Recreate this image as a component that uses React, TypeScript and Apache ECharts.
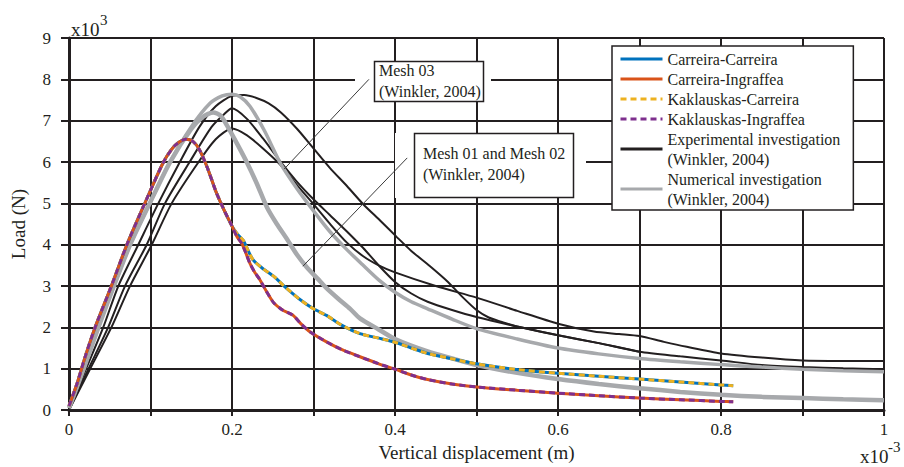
import React, { useEffect, useRef } from "react";
import * as echarts from "echarts";

type P = [number, number];

const FONT = "Liberation Serif";
const INK = "#231f20";
const GRAY = "#a7a9ac";

const yTicks = [0, 1, 2, 3, 4, 5, 6, 7, 8, 9];
const xLabelEvery = 0.2;

// shared rising branch of the four numerical (this study) curves
const colouredRise: P[] = [
  [0, 0.1], [0.01, 0.65], [0.02, 1.3], [0.032, 2.0], [0.052, 3.0], [0.071, 4.0],
  [0.093, 5.0], [0.116, 6.0], [0.13, 6.4], [0.143, 6.55], [0.152, 6.5], [0.16, 6.3],
  [0.17, 5.85], [0.18, 5.3], [0.19, 4.85], [0.2, 4.45],
];
const carreiraTail: P[] = [
  [0.207, 4.25], [0.214, 4.1], [0.22, 3.85], [0.226, 3.63], [0.238, 3.42], [0.251, 3.24],
  [0.265, 2.98], [0.283, 2.68], [0.3, 2.45], [0.316, 2.29], [0.335, 2.05], [0.357, 1.85],
  [0.38, 1.74], [0.4, 1.64], [0.42, 1.5], [0.44, 1.37], [0.47, 1.24], [0.5, 1.12],
  [0.546, 0.99], [0.6, 0.89], [0.65, 0.82], [0.7, 0.75], [0.75, 0.68], [0.8, 0.61], [0.815, 0.59],
];
const ingraffeaTail: P[] = [
  [0.206, 4.2], [0.212, 4.03], [0.217, 3.8], [0.222, 3.55], [0.228, 3.33], [0.234, 3.16],
  [0.242, 2.88], [0.251, 2.6], [0.262, 2.42], [0.275, 2.29], [0.285, 2.08], [0.296, 1.89],
  [0.316, 1.65], [0.335, 1.46], [0.357, 1.29], [0.38, 1.12], [0.4, 0.99], [0.42, 0.85],
  [0.44, 0.74], [0.47, 0.63], [0.5, 0.56], [0.55, 0.48], [0.6, 0.41], [0.65, 0.35],
  [0.7, 0.29], [0.75, 0.25], [0.8, 0.21], [0.815, 0.2],
];

// Winkler (2004) numerical investigation
const mesh03: P[] = [
  [0, 0.05], [0.018, 1.0], [0.036, 2.0], [0.055, 3.0], [0.075, 4.0], [0.099, 5.0], [0.124, 6.0],
  [0.15, 6.85], [0.173, 7.42], [0.188, 7.6], [0.2, 7.64], [0.21, 7.58], [0.222, 7.35],
  [0.24, 6.75], [0.26, 5.95], [0.28, 5.35], [0.3, 4.82], [0.32, 4.32], [0.34, 3.9],
  [0.36, 3.52], [0.38, 3.15], [0.4, 2.85], [0.42, 2.62], [0.44, 2.45], [0.47, 2.2],
  [0.5, 1.97], [0.55, 1.72], [0.6, 1.5], [0.65, 1.36], [0.7, 1.25], [0.75, 1.17],
  [0.8, 1.1], [0.85, 1.04], [0.9, 0.99], [0.95, 0.95], [1.0, 0.93],
];
const mesh0102: P[] = [
  [0, 0.05], [0.018, 1.0], [0.036, 2.0], [0.055, 3.0], [0.075, 4.0], [0.099, 5.0], [0.124, 6.0],
  [0.15, 6.8], [0.165, 7.1], [0.177, 7.2], [0.186, 7.12], [0.194, 6.88], [0.206, 6.45],
  [0.218, 6.0], [0.23, 5.5], [0.243, 4.9], [0.255, 4.5], [0.267, 4.15], [0.28, 3.75],
  [0.292, 3.45], [0.305, 3.18], [0.316, 2.95], [0.33, 2.7], [0.345, 2.45], [0.357, 2.22],
  [0.38, 1.95], [0.4, 1.72], [0.44, 1.42], [0.47, 1.25], [0.5, 1.09], [0.55, 0.9],
  [0.6, 0.75], [0.65, 0.63], [0.7, 0.53], [0.75, 0.44], [0.8, 0.37], [0.85, 0.32],
  [0.9, 0.29], [0.95, 0.26], [1.0, 0.24],
];

// Winkler (2004) experimental investigation
const expA: P[] = [
  [0, 0], [0.021, 1.0], [0.042, 2.0], [0.0605, 3.0], [0.085, 4.0], [0.1096, 5.0], [0.136, 6.0],
  [0.16, 6.85], [0.18, 7.35], [0.2, 7.6], [0.215, 7.62], [0.23, 7.55], [0.245, 7.42],
  [0.26, 7.2], [0.28, 6.8], [0.3, 6.33], [0.32, 5.86], [0.341, 5.42], [0.361, 4.98],
  [0.382, 4.58], [0.402, 4.19], [0.42, 3.85], [0.443, 3.48], [0.465, 3.1], [0.482, 2.75],
  [0.5, 2.42], [0.515, 2.24], [0.53, 2.14], [0.55, 2.02], [0.6, 1.81], [0.65, 1.62], [0.7, 1.41],
];
const expB: P[] = [
  [0, 0], [0.024, 1.0], [0.048, 2.0], [0.0687, 3.0], [0.0953, 4.0], [0.1178, 5.0], [0.148, 6.0],
  [0.175, 6.85], [0.19, 7.15], [0.2, 7.3], [0.218, 7.05], [0.238, 6.57], [0.259, 6.02],
  [0.279, 5.54], [0.3, 5.1], [0.32, 4.72], [0.341, 4.32], [0.361, 3.92], [0.38, 3.5],
  [0.4, 3.1], [0.42, 2.82], [0.44, 2.62], [0.47, 2.42], [0.5, 2.25], [0.55, 2.02],
  [0.6, 1.81], [0.65, 1.62], [0.7, 1.41], [0.75, 1.3], [0.8, 1.2], [0.85, 1.09],
  [0.9, 1.04], [0.95, 1.01], [1.0, 0.99],
];
const expC: P[] = [
  [0, 0], [0.026, 1.0], [0.052, 2.0], [0.0748, 3.0], [0.1015, 4.0], [0.126, 5.0], [0.159, 6.0],
  [0.18, 6.55], [0.2, 6.81], [0.218, 6.65], [0.238, 6.33], [0.259, 5.94], [0.279, 5.46],
  [0.3, 4.98], [0.32, 4.51], [0.341, 4.05], [0.361, 3.72], [0.38, 3.5], [0.4, 3.33],
  [0.45, 3.0], [0.5, 2.72], [0.55, 2.4], [0.6, 2.09], [0.644, 1.9], [0.675, 1.84],
  [0.7, 1.79], [0.73, 1.65], [0.758, 1.53], [0.8, 1.37], [0.85, 1.27], [0.9, 1.2],
  [0.95, 1.19], [1.0, 1.19],
];

// annotation leader lines (data coordinates: start, end)
const leaderMesh03: [P, P] = [[0.368, 8.0], [0.264, 5.83]];
const leaderMesh0102: [P, P] = [[0.415, 6.1], [0.287, 3.48]];

const NAMES = {
  cc: "Carreira-Carreira",
  ci: "Carreira-Ingraffea",
  kc: "Kaklauskas-Carreira",
  ki: "Kaklauskas-Ingraffea",
  exp: "Experimental investigation\n(Winkler, 2004)",
  num: "Numerical investigation\n(Winkler, 2004)",
};

function lineSeries(name: string, data: P[], color: string, width: number, dashed = false, z = 2): any {
  return {
    type: "line",
    name,
    data,
    symbol: "none",
    showSymbol: false,
    smooth: 0.25,
    silent: true,
    z,
    lineStyle: { color, width, type: dashed ? [6, 4] : "solid", cap: "butt" },
    itemStyle: { color, opacity: 0 },
    emphasis: { disabled: true },
  };
}

function txt(text: string, x: number, y: number, fontSize: number, lineHeight?: number): any {
  return {
    type: "text",
    z: 5,
    silent: true,
    x,
    y,
    style: { text, fontFamily: FONT, fontSize, lineHeight, fill: INK },
  };
}

export default function App() {
  const ref = useRef<HTMLDivElement>(null);

  useEffect(() => {
    if (!ref.current) return;
    const chart = echarts.init(ref.current, null, { renderer: "svg" });

    const mesh03Series = lineSeries(NAMES.num, mesh03, GRAY, 3.5);
    mesh03Series.markLine = {
      silent: true,
      symbol: ["none", "none"],
      z: 6,
      label: { show: false },
      emphasis: { disabled: true },
      lineStyle: { color: "#3a3a3a", width: 1, type: "solid", opacity: 1 },
      data: [leaderMesh03, leaderMesh0102].map((l) => [{ coord: l[0] }, { coord: l[1] }]),
    };

    const option: any = {
      animation: false,
      backgroundColor: "#ffffff",
      textStyle: { fontFamily: FONT, color: INK },
      grid: { left: 69, right: 20, top: 38, bottom: 51, containLabel: false },
      xAxis: {
        type: "value",
        min: 0,
        max: 1,
        interval: 0.1,
        name: "Vertical displacement (m)",
        nameLocation: "middle",
        nameGap: 32,
        nameTextStyle: { fontFamily: FONT, fontSize: 19, color: INK },
        axisLine: { show: true, onZero: false, lineStyle: { color: INK, width: 3 } },
        axisTick: { show: true, inside: false, length: 6, lineStyle: { color: INK, width: 2 } },
        axisLabel: {
          fontFamily: FONT,
          fontSize: 17,
          color: INK,
          margin: 11,
          formatter: (v: number) => {
            const k = Math.round(v * 10);
            if (k % Math.round(xLabelEvery * 10) !== 0) return "";
            if (k === 0) return "0";
            if (k === 10) return "1";
            return (k / 10).toFixed(1);
          },
        },
        splitLine: { show: true, lineStyle: { color: INK, width: 2 } },
      },
      yAxis: {
        type: "value",
        min: yTicks[0],
        max: yTicks[yTicks.length - 1],
        interval: 1,
        name: "Load (N)",
        nameLocation: "middle",
        nameGap: 41,
        nameTextStyle: { fontFamily: FONT, fontSize: 19, color: INK },
        axisLine: { show: true, onZero: false, lineStyle: { color: INK, width: 3 } },
        axisTick: { show: true, inside: false, length: 8, lineStyle: { color: INK, width: 2 } },
        axisLabel: { fontFamily: FONT, fontSize: 17, color: INK, margin: 18 },
        splitLine: { show: true, lineStyle: { color: INK, width: 2 } },
      },
      legend: {
        orient: "vertical",
        left: 612,
        top: 46,
        padding: [3, 13, 1, 7],
        itemGap: 0,
        itemWidth: 42,
        itemHeight: 14,
        backgroundColor: "#ffffff",
        borderColor: INK,
        borderWidth: 1.5,
        borderRadius: 0,
        selectedMode: false,
        z: 8,
        itemStyle: { opacity: 0 },
        lineStyle: { width: 3 },
        textStyle: { fontFamily: FONT, fontSize: 16, color: INK, lineHeight: 20 },
        data: [NAMES.cc, NAMES.ci, NAMES.kc, NAMES.ki, NAMES.exp, NAMES.num],
      },
      graphic: [
        { type: "rect", z: 3, silent: true, shape: { x: 355, y: 61, width: 136, height: 41 }, style: { fill: "#fff" } },
        {
          type: "rect", z: 4, silent: true,
          shape: { x: 374.5, y: 61.5, width: 109, height: 40 },
          style: { fill: "#fff", stroke: INK, lineWidth: 1.5 },
        },
        txt("Mesh 03\n(Winkler, 2004)", 379, 60, 16, 21),
        { type: "rect", z: 3, silent: true, shape: { x: 395, y: 133, width: 191, height: 65 }, style: { fill: "#fff" } },
        {
          type: "rect", z: 4, silent: true,
          shape: { x: 414.5, y: 133.5, width: 159, height: 64 },
          style: { fill: "#fff", stroke: INK, lineWidth: 1.5 },
        },
        txt("Mesh 01 and Mesh 02\n(Winkler, 2004)", 423, 143, 16, 21),
        txt("x10", 71, 20, 19),
        txt("3", 100, 12, 15),
        txt("x10", 860, 447, 19),
        txt("-3", 888, 439, 15),
      ],
      series: [
        lineSeries(NAMES.exp, expA, INK, 2),
        lineSeries(NAMES.exp, expB, INK, 2),
        lineSeries(NAMES.exp, expC, INK, 2),
        mesh03Series,
        lineSeries(NAMES.num, mesh0102, GRAY, 4.5),
        lineSeries(NAMES.cc, [...colouredRise, ...carreiraTail], "#0072BD", 3),
        lineSeries(NAMES.ci, [...colouredRise, ...ingraffeaTail], "#D95319", 3),
        lineSeries(NAMES.kc, [...colouredRise, ...carreiraTail], "#EDB120", 3, true),
        lineSeries(NAMES.ki, [...colouredRise, ...ingraffeaTail], "#7E2F8E", 3, true),
      ],
    };

    chart.setOption(option);
    return () => chart.dispose();
  }, []);

  return (
    <div
      ref={ref}
      style={{ position: "fixed", left: 0, top: 0, width: 904, height: 467, background: "#fff" }}
    />
  );
}
